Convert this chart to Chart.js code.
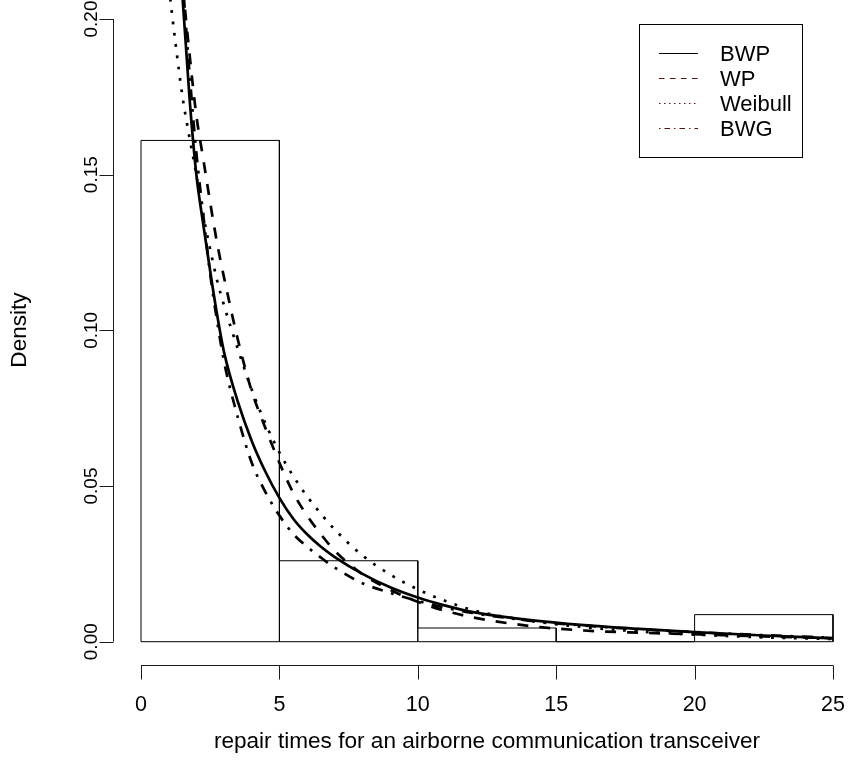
<!DOCTYPE html>
<html>
<head>
<meta charset="utf-8">
<script src="https://cdn.jsdelivr.net/npm/chart.js@4.4.0/dist/chart.umd.min.js"></script>
<style>
  html, body { margin: 0; padding: 0; background: #fff; }
  #wrap { width: 848px; height: 780px; }
</style>
</head>
<body>
<div id="wrap"><canvas id="myChart"></canvas></div>
<script>
// Histogram of the repair times (density scale)
let binEdges = [0, 5, 10, 15, 20, 25]
let binDensity = [0.161, 0.026, 0.0044, 0, 0.0087]

// Fitted densities on a common x grid
let xGrid   = [0.75, 1.0, 1.25, 1.5, 1.75, 2.0, 2.25, 2.5, 2.75, 3.0, 3.5, 4.0, 4.5, 5.0, 5.5, 6.0, 6.5, 7.0, 8.0, 9.0, 10.0, 11.0, 12.0, 14.0, 16.0, 18.0, 20.0, 22.5, 25.0]
let bwp     = [0.40, 0.30, 0.245, 0.207, 0.175, 0.150, 0.134, 0.119, 0.105, 0.093, 0.077, 0.0645, 0.0545, 0.0462, 0.0395, 0.0345, 0.0305, 0.0272, 0.0218, 0.0175, 0.0142, 0.0116, 0.0095, 0.0070, 0.0053, 0.0041, 0.0031, 0.0020, 0.0011]
let wp      = [0.33, 0.28, 0.242, 0.212, 0.189, 0.169, 0.155, 0.141, 0.128, 0.117, 0.097, 0.0805, 0.0685, 0.0575, 0.0478, 0.0405, 0.0345, 0.0292, 0.0217, 0.0167, 0.0128, 0.0099, 0.0078, 0.0051, 0.0036, 0.0029, 0.0024, 0.0017, 0.0012]
let weibull = [0.232, 0.211, 0.192, 0.175, 0.162, 0.150, 0.137, 0.126, 0.116, 0.108, 0.094, 0.081, 0.070, 0.0608, 0.0532, 0.0467, 0.0411, 0.0360, 0.0277, 0.0216, 0.0168, 0.0131, 0.0101, 0.0068, 0.0047, 0.0033, 0.0023, 0.0014, 0.0009]
let bwg     = [0.36, 0.29, 0.245, 0.213, 0.183, 0.157, 0.137, 0.118, 0.103, 0.090, 0.072, 0.0575, 0.048, 0.0405, 0.0346, 0.0305, 0.027, 0.0238, 0.0188, 0.0157, 0.0131, 0.0109, 0.0092, 0.0068, 0.0052, 0.0040, 0.0031, 0.0021, 0.0013]

let seriesNames = ["BWP", "WP", "Weibull", "BWG"]
let xTicks = [0, 5, 10, 15, 20, 25]
let xTickLabels = ["0", "5", "10", "15", "20", "25"]
let yTicks = [0, 0.05, 0.10, 0.15, 0.20]
let yTickLabels = ["0.00", "0.05", "0.10", "0.15", "0.20"]
let xTitle = "repair times for an airborne communication transceiver"
let yTitle = "Density"

const family = '"Liberation Sans", Arial, Helvetica, sans-serif'
const xTickFont = '21.5px ' + family
const yTickFont = '19px ' + family
const titleFont = '22.6px ' + family
const legendFont = '22px ' + family
const legendColors = ['#000000', '#5b1010', '#5b1010', '#5b1010']
const legendDash = [[], [5.5, 5.5], [1.5, 3.5], [1.5, 4, 5.5, 4]]

// Outline of the histogram rectangles
function histOutline() {
  let pts = [{x: binEdges[0], y: 0}]
  for (let i = 0; i < binDensity.length; i++) {
    pts.push({x: binEdges[i], y: binDensity[i]})
    pts.push({x: binEdges[i + 1], y: binDensity[i]})
    pts.push({x: binEdges[i + 1], y: 0})
  }
  pts.push({x: binEdges[0], y: 0})
  return pts
}

function curve(values) {
  return xGrid.map((x, i) => ({x: x, y: values[i]}))
}

function curveSet(label, values, dash) {
  return {
    label: label,
    data: curve(values),
    borderColor: '#000',
    borderWidth: 2.7,
    borderDash: dash,
    borderCapStyle: 'butt',
    pointRadius: 0,
    cubicInterpolationMode: 'monotone',
    fill: false
  }
}

// R style axes, titles and boxed legend
const rDecor = {
  id: 'rDecor',
  afterDraw(chart) {
    const ctx = chart.ctx
    const xs = chart.scales.x
    const ys = chart.scales.y
    const area = chart.chartArea
    ctx.save()
    ctx.strokeStyle = '#1a1a1a'
    ctx.fillStyle = '#000'
    ctx.lineWidth = 1
    ctx.setLineDash([])
    ctx.textAlign = 'center'
    ctx.textBaseline = 'middle'

    // x axis
    let ay = Math.round(area.bottom) - 0.5
    ctx.beginPath()
    ctx.moveTo(xs.getPixelForValue(xTicks[0]), ay)
    ctx.lineTo(xs.getPixelForValue(xTicks[xTicks.length - 1]), ay)
    xTicks.forEach(v => {
      let px = Math.round(xs.getPixelForValue(v)) + 0.5
      ctx.moveTo(px, ay)
      ctx.lineTo(px, ay + 14)
    })
    ctx.stroke()
    ctx.font = xTickFont
    xTicks.forEach((v, i) => {
      ctx.fillText(xTickLabels[i], xs.getPixelForValue(v), ay + 40)
    })
    ctx.font = titleFont
    ctx.fillText(xTitle, (xs.getPixelForValue(xTicks[0]) + xs.getPixelForValue(xTicks[xTicks.length - 1])) / 2, ay + 76)

    // y axis
    let ax = Math.round(area.left) + 0.5
    ctx.beginPath()
    ctx.moveTo(ax, ys.getPixelForValue(yTicks[0]))
    ctx.lineTo(ax, ys.getPixelForValue(yTicks[yTicks.length - 1]))
    yTicks.forEach(v => {
      let py = Math.round(ys.getPixelForValue(v)) + 0.5
      ctx.moveTo(ax, py)
      ctx.lineTo(ax - 14, py)
    })
    ctx.stroke()
    ctx.font = yTickFont
    yTicks.forEach((v, i) => {
      ctx.save()
      ctx.translate(ax - 22, ys.getPixelForValue(v))
      ctx.rotate(-Math.PI / 2)
      ctx.fillText(yTickLabels[i], 0, 0)
      ctx.restore()
    })
    ctx.font = titleFont
    ctx.save()
    ctx.translate(20, (area.top + area.bottom) / 2 - 3)
    ctx.rotate(-Math.PI / 2)
    ctx.fillText(yTitle, 0, 0)
    ctx.restore()

    // legend box
    ctx.strokeStyle = '#000'
    ctx.strokeRect(639.5, 24.5, 163, 133)
    ctx.textAlign = 'left'
    ctx.font = legendFont
    seriesNames.forEach((name, i) => {
      let y = 53.5 + 25 * i
      ctx.beginPath()
      ctx.setLineDash(legendDash[i])
      ctx.strokeStyle = legendColors[i]
      ctx.moveTo(659, y)
      ctx.lineTo(698, y)
      ctx.stroke()
      ctx.fillText(name, 720, y + 1)
    })
    ctx.restore()
  }
}

const ctx = document.getElementById('myChart').getContext('2d')
const myChart = new Chart(ctx, {
  type: 'line',
  data: {
    datasets: [
      {
        label: 'histogram',
        data: histOutline(),
        borderColor: '#000',
        borderWidth: 1,
        pointRadius: 0,
        tension: 0,
        fill: false
      },
      curveSet(seriesNames[0], bwp, []),
      curveSet(seriesNames[1], wp, [11, 11]),
      curveSet(seriesNames[2], weibull, [2.8, 8.6]),
      curveSet(seriesNames[3], bwg, [2.8, 8.6, 11, 8.6])
    ]
  },
  options: {
    responsive: true,
    maintainAspectRatio: false,
    animation: false,
    layout: { padding: { left: 113, right: 0, top: 0, bottom: 114 } },
    scales: {
      x: { type: 'linear', min: -1.0116, max: 25.542, display: false },
      y: { type: 'linear', min: -0.0078, max: 0.2061, display: false }
    },
    plugins: {
      legend: { display: false },
      tooltip: { enabled: false }
    }
  },
  plugins: [rDecor]
})
</script>
</body>
</html>
